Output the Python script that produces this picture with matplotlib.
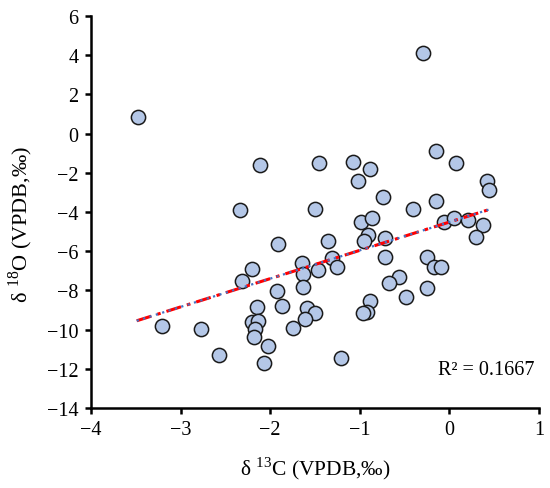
import numpy as np
import matplotlib
matplotlib.use("Agg")
import matplotlib.pyplot as plt

# delta 13C values (x)
d13C = [-3.475, -2.11, -2.34, -0.30, -1.46, -1.08, -0.89, -1.02, -0.15, 0.07,
        0.42, 0.44, -0.74, -1.50, -0.41, -0.15, -0.99, -0.86, -0.06, 0.05,
        0.21, 0.37, 0.30, -0.91, -0.95, -0.72, -1.36, -1.91, -1.31, -1.64,
        -2.20, -1.26, -1.47, -2.31, -1.63, -1.63, -1.92, -1.87, -2.15, -1.59,
        -1.50, -1.61, -2.20, -2.14, -2.17, -2.18, -1.75, -2.77, -3.21, -2.02,
        -2.57, -2.07, -1.21, -0.72, -0.25, -0.17, -0.09, -0.56, -0.67, -0.25,
        -0.48, -0.89, -0.92, -0.96]
# delta 18O values (y)
d18O = [0.85, -1.60, -3.92, 4.10, -1.48, -1.45, -1.82, -2.40, -0.87, -1.52,
        -2.40, -2.86, -3.26, -3.84, -3.84, -3.46, -4.49, -4.31, -4.49, -4.30,
        -4.43, -4.67, -5.28, -5.17, -5.50, -5.33, -5.48, -5.62, -6.35, -6.62,
        -6.92, -6.83, -6.96, -7.54, -7.16, -7.81, -8.01, -8.82, -8.86, -8.88,
        -9.17, -9.47, -9.61, -9.56, -9.97, -10.38, -9.90, -9.96, -9.83, -10.83,
        -11.32, -11.72, -11.47, -6.29, -6.32, -6.83, -6.83, -7.32, -7.61, -7.86,
        -8.33, -8.52, -9.12, -9.15]

# trend line endpoints
trend_x = [-3.49, 0.44]
trend_y = [-9.55, -3.88]

xticks = [-4, -3, -2, -1, 0, 1]
yticks = [6, 4, 2, 0, -2, -4, -6, -8, -10, -12, -14]
r2_label = "R\u00b2 = 0.1667"

plt.rcParams['font.family'] = ['Liberation Serif', 'DejaVu Serif']
plt.rcParams['mathtext.fontset'] = 'custom'
plt.rcParams['mathtext.rm'] = 'Liberation Serif'

fig = plt.figure(figsize=(5.5, 4.89), dpi=100)
ax = fig.add_axes([0.1655, 0.1636, 0.8145, 0.8017])

ax.scatter(d13C, d18O, s=105, facecolor='#B4C7E7', edgecolor='#1a1a1a',
           linewidth=1.1, zorder=3)

ax.plot(trend_x, trend_y, color='#FF0000', linewidth=2.2,
        dashes=(5, 2, 1.2, 2), zorder=4)
ax.plot(trend_x, trend_y, color='#4472C4', linewidth=1.6,
        linestyle=(0, (1, 2)), zorder=5)

ax.set_xlim(-4, 1)
ax.set_ylim(-14, 6)
ax.set_xticks(xticks)
ax.set_yticks(yticks)
ax.set_xticklabels([str(t).replace('-', '\u2212') for t in xticks])
ax.set_yticklabels([str(t).replace('-', '\u2212') for t in yticks])

for s in ['top', 'right']:
    ax.spines[s].set_visible(False)
for s in ['left', 'bottom']:
    ax.spines[s].set_linewidth(1.8)
    ax.spines[s].set_color('black')
ax.tick_params(axis='both', direction='out', length=4, width=1.8,
               labelsize=14.5, pad=5, colors='black')

ax.set_xlabel("\u03b4 $^{13}$C (VPDB,\u2030)", fontsize=15.5)
ax.set_ylabel("\u03b4 $^{18}$O (VPDB,\u2030)", fontsize=16)
ax.xaxis.set_label_coords(0.5, -0.118)
ax.yaxis.set_label_coords(-0.126, 0.472)

ax.text(0.955, -12.05, r2_label, ha='right', va='center', fontsize=14.5)

fig.savefig("out.png", dpi=100)
